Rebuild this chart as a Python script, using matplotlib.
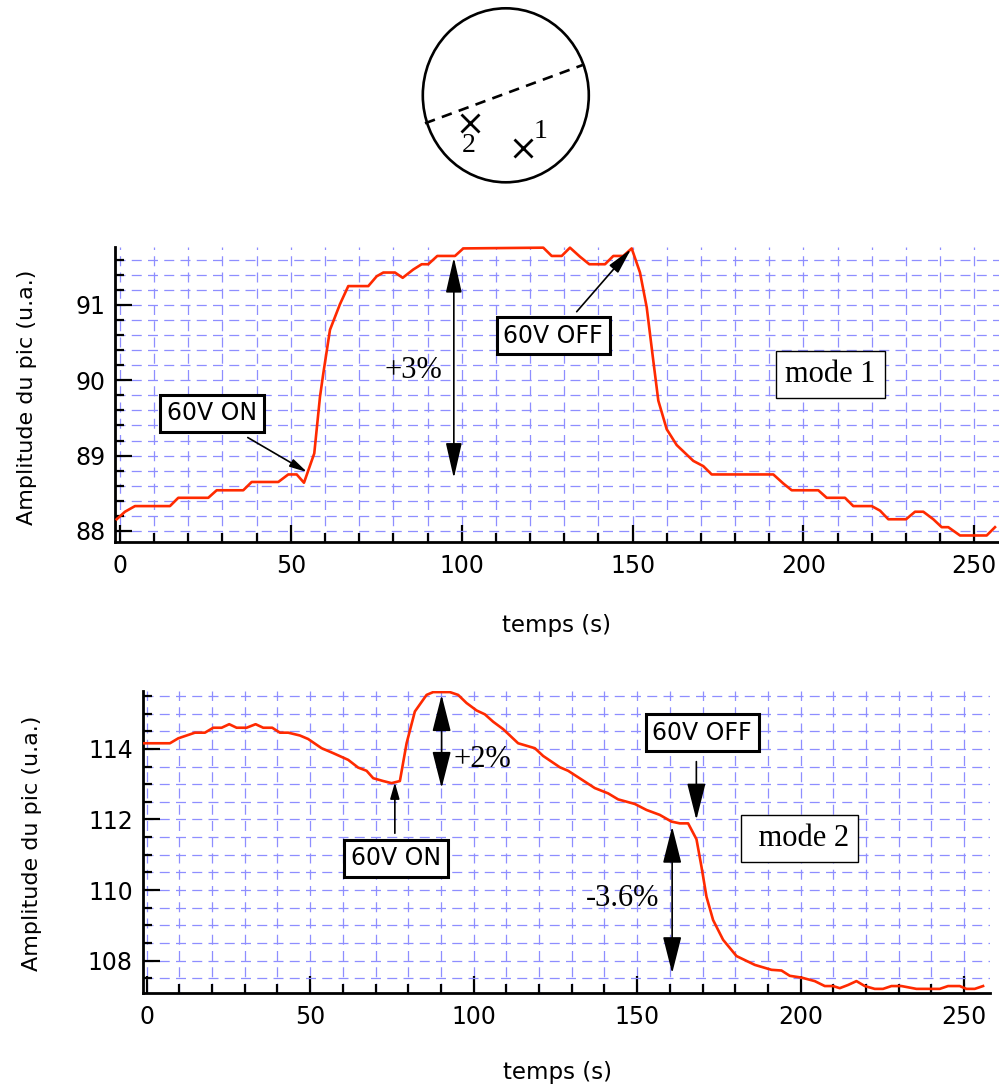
import matplotlib
matplotlib.use('Agg')
import matplotlib.pyplot as plt
from matplotlib.patches import Ellipse
from matplotlib.ticker import MultipleLocator

# ---------------- data ----------------
t_mode1 = [-0.97, 1.46, 4.39, 14.63, 17.06, 25.84, 28.3, 36.08, 38.54, 46.33, 49.25, 51.71,
           53.85, 56.86, 58.53, 59.5, 61.46, 64.38, 66.81, 72.67, 75.12, 77.06, 80.48, 82.73,
           85.83, 88.29, 90.22, 92.86, 98.04, 100.47, 123.88, 126.34, 129.27, 131.69, 134.62,
           137.34, 141.94, 144.37, 147.29, 149.75, 152.18, 154.14, 156.07, 157.54, 160.0,
           162.92, 167.78, 170.71, 173.16, 191.19, 194.12, 196.58, 204.36, 206.82, 212.17,
           214.6, 219.99, 222.42, 224.85, 230.03, 232.66, 235.09, 238.02, 240.47, 242.4,
           245.83, 253.64, 256.07]
amp_mode1 = [88.155, 88.255, 88.33, 88.33, 88.44, 88.44, 88.54, 88.54, 88.65, 88.65, 88.75, 88.75,
             88.64, 89.03, 89.78, 90.09, 90.67, 91.01, 91.25, 91.25, 91.38, 91.43, 91.43, 91.36,
             91.47, 91.54, 91.54, 91.65, 91.65, 91.75, 91.76, 91.65, 91.65, 91.76, 91.64,
             91.54, 91.54, 91.65, 91.65, 91.75, 91.43, 90.97, 90.26, 89.73, 89.35,
             89.14, 88.93, 88.86, 88.75, 88.75, 88.63, 88.54, 88.54, 88.44, 88.44,
             88.33, 88.33, 88.27, 88.155, 88.155, 88.255, 88.255, 88.155, 88.05, 88.05,
             87.94, 87.94, 88.05]

t_mode2 = [-1.04, 7.12, 9.66, 14.77, 17.82, 20.36, 22.93, 25.25, 27.51, 30.57, 33.32, 35.65,
           38.4, 40.75, 43.29, 46.87, 49.4, 53.5, 57.05, 61.63, 64.69, 67.26, 69.28, 72.33,
           74.9, 77.44, 79.49, 82.02, 85.6, 87.62, 92.72, 95.26, 97.83, 100.89, 103.42,
           105.96, 109.02, 113.6, 118.71, 121.25, 126.35, 128.89, 137.05, 141.12, 144.18,
           149.28, 152.86, 156.93, 160.5, 163.04, 165.58, 168.14, 169.67, 171.2, 173.22,
           176.28, 180.37, 185.97, 191.07, 194.13, 196.67, 200.24, 204.31, 207.37, 209.91,
           211.95, 214.49, 217.06, 219.6, 222.65, 225.19, 227.76, 230.82, 235.4, 242.53,
           245.07, 248.64, 250.69, 253.23, 255.77]
amp_mode2 = [114.16, 114.16, 114.30, 114.46, 114.46, 114.60, 114.60, 114.70, 114.60, 114.60, 114.70, 114.60,
             114.60, 114.46, 114.46, 114.38, 114.28, 114.02, 113.88, 113.69, 113.47, 113.38, 113.17, 113.09,
             113.03, 113.09, 114.16, 115.06, 115.53, 115.61, 115.61, 115.53, 115.30, 115.09, 114.98,
             114.77, 114.56, 114.16, 114.02, 113.80, 113.48, 113.38, 112.89, 112.74, 112.57,
             112.44, 112.27, 112.13, 111.94, 111.89, 111.89, 111.44, 110.66, 109.81, 109.15,
             108.59, 108.13, 107.88, 107.74, 107.72, 107.57, 107.52, 107.42, 107.28, 107.28,
             107.22, 107.31, 107.42, 107.28, 107.20, 107.20, 107.28, 107.28, 107.20, 107.20,
             107.28, 107.28, 107.20, 107.20, 107.28]

xlabel = "temps (s)"
ylabel = "Amplitude du pic (u.a.)"

SANS = 'DejaVu Sans'
SERIF = 'Liberation Serif'
RED = '#ff2a00'
GRID = '#8e8eff'

fig = plt.figure(figsize=(9.99, 10.87), dpi=100)

# ---------------- schematic (pixel coordinates) ----------------
axd = fig.add_axes([0, 0, 1, 1])
axd.set_xlim(0, 999)
axd.set_ylim(1087, 0)
axd.axis('off')
axd.add_patch(Ellipse((505.8, 95.3), 166, 174, fill=False, lw=1.9, ec='black'))
axd.plot([425, 582.7], [123.3, 65], color='black', lw=1.9, ls=(0, (4, 2.8)), solid_capstyle='butt')
axd.plot([470], [122.7], marker='x', ms=13, mew=2.0, color='black', ls='none')
axd.plot([523.3], [148.3], marker='x', ms=13, mew=2.0, color='black', ls='none')
axd.text(469, 145, '2', fontsize=20, family=SERIF, ha='center', va='center')
axd.text(541, 132, '1', fontsize=20, family=SERIF, ha='center', va='center')


def style_axes(ax, ymajor, yminor, xlim, ylim):
    ax.set_xlim(*xlim)
    ax.set_ylim(*ylim)
    ax.xaxis.set_major_locator(MultipleLocator(50))
    ax.xaxis.set_minor_locator(MultipleLocator(10))
    ax.yaxis.set_major_locator(MultipleLocator(ymajor))
    ax.yaxis.set_minor_locator(MultipleLocator(yminor))
    for s in ['top', 'right']:
        ax.spines[s].set_visible(False)
    for s in ['left', 'bottom']:
        ax.spines[s].set_linewidth(2.0)
    ax.tick_params(which='major', direction='in', length=12, width=1.6, labelsize=17)
    ax.tick_params(which='minor', direction='in', length=6.5, width=1.6)
    ax.tick_params(axis='y', which='major', pad=7)
    ax.tick_params(axis='x', which='major', pad=9)
    ax.grid(which='both', color=GRID, lw=0.9, ls=(0, (8, 5)))
    ax.set_axisbelow(True)
    for lab in ax.get_xticklabels() + ax.get_yticklabels():
        lab.set_family(SANS)


def box_text(ax, x, y, s):
    ax.text(x, y, s, fontsize=17, family=SANS, ha='center', va='center', zorder=5,
            bbox=dict(boxstyle='square,pad=0.28', fc='white', ec='black', lw=2.2))


def mode_text(ax, x, y, s):
    ax.text(x, y, s, fontsize=22, family=SERIF, ha='center', va='center', zorder=5,
            bbox=dict(boxstyle='square,pad=0.3', fc='white', ec='black', lw=1.0))


def arrow(ax, xy_from, xy_to, style, scale, color='black', lw=1.2):
    ax.annotate('', xy=xy_to, xytext=xy_from,
                arrowprops=dict(arrowstyle=style, mutation_scale=scale, color=color, lw=lw,
                                shrinkA=0, shrinkB=0), zorder=6)


# ---------------- top panel (mode 1) ----------------
ax1 = fig.add_axes([0.1151, 0.5017, 0.8849, 0.2708])
style_axes(ax1, 1, 0.2, (-1.46, 257.24), (87.858, 91.765))
ax1.set_yticks([88, 89, 90, 91])
ax1.plot(t_mode1, amp_mode1, color=RED, lw=1.9, zorder=4, clip_on=False)
ax1.set_xlabel(xlabel, fontsize=16.5, family=SANS)
ax1.xaxis.set_label_coords(0.5, -0.245)
ax1.set_ylabel(ylabel, fontsize=16, family=SANS)
ax1.yaxis.set_label_coords(-0.088, 0.49)

box_text(ax1, 26.9, 89.56, '60V ON')
arrow(ax1, (37.4, 89.24), (54.8, 88.78), '-|>,head_length=0.75,head_width=0.18', 14)
box_text(ax1, 126.8, 90.59, '60V OFF')
arrow(ax1, (133.65, 90.91), (149.55, 91.74), '-|>,head_length=0.93,head_width=0.21', 17)
arrow(ax1, (97.7, 91.63), (97.7, 88.70), '<|-|>,head_length=1.1,head_width=0.25', 20)
ax1.text(85.8, 90.13, '+3%', fontsize=22, family=SERIF, ha='center', va='center', zorder=5)
mode_text(ax1, 207.9, 90.08, 'mode 1')

# ---------------- bottom panel (mode 2) ----------------
ax2 = fig.add_axes([0.1428, 0.0867, 0.8482, 0.2779])
style_axes(ax2, 2, 0.5, (-1.22, 257.9), (107.09, 115.65))
ax2.plot(t_mode2, amp_mode2, color=RED, lw=1.9, zorder=4)
ax2.set_xlabel(xlabel, fontsize=16.5, family=SANS)
ax2.xaxis.set_label_coords(0.49, -0.226)
ax2.set_ylabel(ylabel, fontsize=16, family=SANS)
ax2.yaxis.set_label_coords(-0.119, 0.496)

box_text(ax2, 76.3, 110.90, '60V ON')
arrow(ax2, (75.9, 111.61), (75.9, 113.05), '-|>,head_length=0.7,head_width=0.2', 14)
arrow(ax2, (90.2, 115.53), (90.2, 112.89), '<|-|>,head_length=1.15,head_width=0.29', 20)
ax2.text(102.7, 113.69, '+2%', fontsize=22, family=SERIF, ha='center', va='center', zorder=5)
box_text(ax2, 169.9, 114.46, '60V OFF')
arrow(ax2, (168.1, 113.64), (168.1, 111.99), '-|>,head_length=1.15,head_width=0.29', 20)
mode_text(ax2, 199.7, 111.47, ' mode 2')
arrow(ax2, (160.7, 111.80), (160.7, 107.64), '<|-|>,head_length=1.15,head_width=0.29', 20)
ax2.text(145.5, 109.77, '-3.6%', fontsize=22, family=SERIF, ha='center', va='center', zorder=5)

fig.savefig('out.png', dpi=100)
